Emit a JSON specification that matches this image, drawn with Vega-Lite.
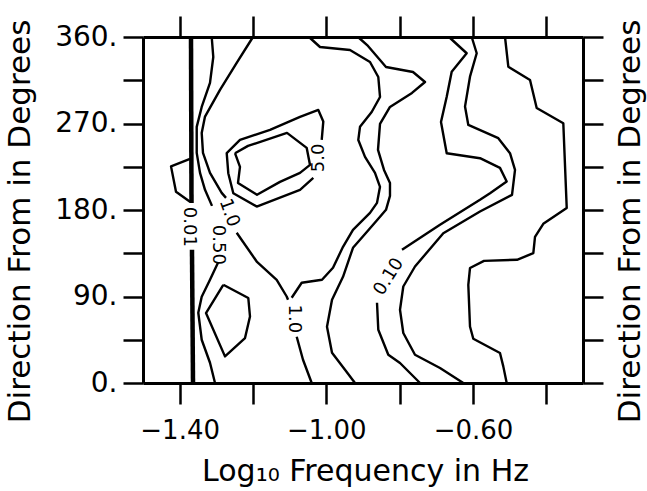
{
  "$schema": "https://vega.github.io/schema/vega-lite/v6.json",
  "width": 440,
  "height": 346,
  "autosize": {"type": "none"},
  "padding": {"left": 143, "top": 37, "right": 64, "bottom": 108},
  "background": "white",
  "config": {"view": {"stroke": null}, "font": "DejaVu Sans"},
  "datasets": {
    "contours": [
      {"seg": "0.50 left upper", "i": 0, "x": -1.3126, "y": 360},
      {"seg": "0.50 left upper", "i": 1, "x": -1.3083, "y": 339.2},
      {"seg": "0.50 left upper", "i": 2, "x": -1.3173, "y": 312.2},
      {"seg": "0.50 left upper", "i": 3, "x": -1.3399, "y": 287.2},
      {"seg": "0.50 left upper", "i": 4, "x": -1.3535, "y": 266.5},
      {"seg": "0.50 left upper", "i": 5, "x": -1.3535, "y": 239.4},
      {"seg": "0.50 left upper", "i": 6, "x": -1.3445, "y": 218.6},
      {"seg": "0.50 left upper", "i": 7, "x": -1.3309, "y": 201.0},
      {"seg": "0.50 left upper", "i": 8, "x": -1.3118, "y": 184.3},
      {"seg": "0.50 left lower", "i": 0, "x": -1.2955, "y": 125.1},
      {"seg": "0.50 left lower", "i": 1, "x": -1.3173, "y": 107.4},
      {"seg": "0.50 left lower", "i": 2, "x": -1.3399, "y": 89.7},
      {"seg": "0.50 left lower", "i": 3, "x": -1.3492, "y": 73.1},
      {"seg": "0.50 left lower", "i": 4, "x": -1.3399, "y": 45.0},
      {"seg": "0.50 left lower", "i": 5, "x": -1.3173, "y": 21.1},
      {"seg": "0.50 left lower", "i": 6, "x": -1.3036, "y": 0},
      {"seg": "1.0 a", "i": 0, "x": -1.2, "y": 360},
      {"seg": "1.0 a", "i": 1, "x": -1.2445, "y": 333.0},
      {"seg": "1.0 a", "i": 2, "x": -1.29, "y": 304.9},
      {"seg": "1.0 a", "i": 3, "x": -1.3309, "y": 277.2},
      {"seg": "1.0 a", "i": 4, "x": -1.3399, "y": 260.2},
      {"seg": "1.0 a", "i": 5, "x": -1.3364, "y": 239.4},
      {"seg": "1.0 a", "i": 6, "x": -1.3173, "y": 218.6},
      {"seg": "1.0 a", "i": 7, "x": -1.2854, "y": 197.8},
      {"seg": "1.0 a", "i": 8, "x": -1.2736, "y": 192.6},
      {"seg": "1.0 b", "i": 0, "x": -1.2445, "y": 156.3},
      {"seg": "1.0 b", "i": 1, "x": -1.1899, "y": 126.4},
      {"seg": "1.0 b", "i": 2, "x": -1.1354, "y": 107.4},
      {"seg": "1.0 b", "i": 3, "x": -1.1081, "y": 90.0},
      {"seg": "1.0 b", "i": 4, "x": -1.1045, "y": 86.6},
      {"seg": "1.0 c", "i": 0, "x": -1.0808, "y": 48.1},
      {"seg": "1.0 c", "i": 1, "x": -1.0636, "y": 24.2},
      {"seg": "1.0 c", "i": 2, "x": -1.0399, "y": 0},
      {"seg": "1.0 d", "i": 0, "x": -1.0945, "y": 88.7},
      {"seg": "1.0 d", "i": 1, "x": -1.0672, "y": 104.3},
      {"seg": "1.0 d", "i": 2, "x": -1.0118, "y": 107.4},
      {"seg": "1.0 d", "i": 3, "x": -0.9818, "y": 119.9},
      {"seg": "1.0 d", "i": 4, "x": -0.9545, "y": 141.7},
      {"seg": "1.0 d", "i": 5, "x": -0.9273, "y": 159.4},
      {"seg": "1.0 d", "i": 6, "x": -0.8809, "y": 177.0},
      {"seg": "1.0 d", "i": 7, "x": -0.8618, "y": 187.4},
      {"seg": "1.0 d", "i": 8, "x": -0.8536, "y": 204.1},
      {"seg": "1.0 d", "i": 9, "x": -0.8673, "y": 218.6},
      {"seg": "1.0 d", "i": 10, "x": -0.8945, "y": 235.3},
      {"seg": "1.0 d", "i": 11, "x": -0.9128, "y": 252.9},
      {"seg": "1.0 d", "i": 12, "x": -0.9082, "y": 266.5},
      {"seg": "1.0 d", "i": 13, "x": -0.8763, "y": 282.0},
      {"seg": "1.0 d", "i": 14, "x": -0.8536, "y": 297.6},
      {"seg": "1.0 d", "i": 15, "x": -0.8583, "y": 318.4},
      {"seg": "1.0 d", "i": 16, "x": -0.8809, "y": 334.0},
      {"seg": "1.0 d", "i": 17, "x": -0.9355, "y": 346.5},
      {"seg": "1.0 d", "i": 18, "x": -1.0173, "y": 349.6},
      {"seg": "1.0 d", "i": 19, "x": -1.0473, "y": 360},
      {"seg": "5.0 outer", "i": 0, "x": -1.0355, "y": 213.4},
      {"seg": "5.0 outer", "i": 1, "x": -1.0718, "y": 201.0},
      {"seg": "5.0 outer", "i": 2, "x": -1.1899, "y": 183.6},
      {"seg": "5.0 outer", "i": 3, "x": -1.2537, "y": 197.5},
      {"seg": "5.0 outer", "i": 4, "x": -1.2674, "y": 218.3},
      {"seg": "5.0 outer", "i": 5, "x": -1.2717, "y": 239.1},
      {"seg": "5.0 outer", "i": 6, "x": -1.2355, "y": 252.9},
      {"seg": "5.0 outer", "i": 7, "x": -1.1536, "y": 263.3},
      {"seg": "5.0 outer", "i": 8, "x": -1.0718, "y": 276.8},
      {"seg": "5.0 outer", "i": 9, "x": -1.0219, "y": 284.1},
      {"seg": "5.0 outer", "i": 10, "x": -1.0083, "y": 272.0},
      {"seg": "5.0 outer", "i": 11, "x": -1.0126, "y": 252.9},
      {"seg": "inner", "i": 0, "x": -1.2491, "y": 239.1},
      {"seg": "inner", "i": 1, "x": -1.2136, "y": 246.7},
      {"seg": "inner", "i": 2, "x": -1.1073, "y": 260.2},
      {"seg": "inner", "i": 3, "x": -1.0535, "y": 244.6},
      {"seg": "inner", "i": 4, "x": -1.0445, "y": 226.9},
      {"seg": "inner", "i": 5, "x": -1.0718, "y": 218.6},
      {"seg": "inner", "i": 6, "x": -1.1264, "y": 209.3},
      {"seg": "inner", "i": 7, "x": -1.1891, "y": 195.8},
      {"seg": "inner", "i": 8, "x": -1.2409, "y": 208.2},
      {"seg": "inner", "i": 9, "x": -1.2355, "y": 224.9},
      {"seg": "inner", "i": 10, "x": -1.2491, "y": 239.1},
      {"seg": "low loop", "i": 0, "x": -1.281, "y": 102.2},
      {"seg": "low loop", "i": 1, "x": -1.2128, "y": 88.4},
      {"seg": "low loop", "i": 2, "x": -1.2082, "y": 69.2},
      {"seg": "low loop", "i": 3, "x": -1.2218, "y": 46.8},
      {"seg": "low loop", "i": 4, "x": -1.2764, "y": 27.7},
      {"seg": "low loop", "i": 5, "x": -1.3282, "y": 72.8},
      {"seg": "low loop", "i": 6, "x": -1.281, "y": 102.2},
      {"seg": "left pocket", "i": 0, "x": -1.3718, "y": 233.2},
      {"seg": "left pocket", "i": 1, "x": -1.4236, "y": 225.4},
      {"seg": "left pocket", "i": 2, "x": -1.41, "y": 198.9},
      {"seg": "left pocket", "i": 3, "x": -1.3718, "y": 188.5},
      {"seg": "0.50 right", "i": 0, "x": -0.9136, "y": 360},
      {"seg": "0.50 right", "i": 1, "x": -0.8864, "y": 350.7},
      {"seg": "0.50 right", "i": 2, "x": -0.8536, "y": 336.1},
      {"seg": "0.50 right", "i": 3, "x": -0.8373, "y": 328.8},
      {"seg": "0.50 right", "i": 4, "x": -0.7636, "y": 323.6},
      {"seg": "0.50 right", "i": 5, "x": -0.7309, "y": 313.2},
      {"seg": "0.50 right", "i": 6, "x": -0.7664, "y": 301.8},
      {"seg": "0.50 right", "i": 7, "x": -0.8264, "y": 287.2},
      {"seg": "0.50 right", "i": 8, "x": -0.8536, "y": 269.6},
      {"seg": "0.50 right", "i": 9, "x": -0.8591, "y": 242.5},
      {"seg": "0.50 right", "i": 10, "x": -0.8427, "y": 221.7},
      {"seg": "0.50 right", "i": 11, "x": -0.8264, "y": 208.2},
      {"seg": "0.50 right", "i": 12, "x": -0.8264, "y": 194.7},
      {"seg": "0.50 right", "i": 13, "x": -0.8373, "y": 180.2},
      {"seg": "0.50 right", "i": 14, "x": -0.8536, "y": 172.9},
      {"seg": "0.50 right", "i": 15, "x": -0.8891, "y": 157.3},
      {"seg": "0.50 right", "i": 16, "x": -0.9273, "y": 140.7},
      {"seg": "0.50 right", "i": 17, "x": -0.9545, "y": 110.5},
      {"seg": "0.50 right", "i": 18, "x": -0.9845, "y": 86.6},
      {"seg": "0.50 right", "i": 19, "x": -0.9982, "y": 58.5},
      {"seg": "0.50 right", "i": 20, "x": -0.9845, "y": 31.5},
      {"seg": "0.50 right", "i": 21, "x": -0.9491, "y": 13.8},
      {"seg": "0.50 right", "i": 22, "x": -0.9218, "y": 0},
      {"seg": "0.10 upper", "i": 0, "x": -0.6655, "y": 360},
      {"seg": "0.10 upper", "i": 1, "x": -0.6172, "y": 343.1},
      {"seg": "0.10 upper", "i": 2, "x": -0.6581, "y": 323.9},
      {"seg": "0.10 upper", "i": 3, "x": -0.6717, "y": 297.9},
      {"seg": "0.10 upper", "i": 4, "x": -0.6873, "y": 271.6},
      {"seg": "0.10 upper", "i": 5, "x": -0.6717, "y": 239.1},
      {"seg": "0.10 upper", "i": 6, "x": -0.5809, "y": 233.9},
      {"seg": "0.10 upper", "i": 7, "x": -0.5264, "y": 223.8},
      {"seg": "0.10 upper", "i": 8, "x": -0.5081, "y": 209.6},
      {"seg": "0.10 upper", "i": 9, "x": -0.5536, "y": 197.5},
      {"seg": "0.10 upper", "i": 10, "x": -0.5809, "y": 190.6},
      {"seg": "0.10 upper", "i": 11, "x": -0.69, "y": 164.6},
      {"seg": "0.10 upper", "i": 12, "x": -0.7936, "y": 138.6},
      {"seg": "0.10 lower", "i": 0, "x": -0.8618, "y": 83.5},
      {"seg": "0.10 lower", "i": 1, "x": -0.8583, "y": 55.4},
      {"seg": "0.10 lower", "i": 2, "x": -0.831, "y": 29.4},
      {"seg": "0.10 lower", "i": 3, "x": -0.7991, "y": 20.8},
      {"seg": "0.10 lower", "i": 4, "x": -0.7445, "y": 0},
      {"seg": "0.05", "i": 0, "x": -0.6035, "y": 360},
      {"seg": "0.05", "i": 1, "x": -0.5899, "y": 343.1},
      {"seg": "0.05", "i": 2, "x": -0.6082, "y": 318.7},
      {"seg": "0.05", "i": 3, "x": -0.6218, "y": 287.6},
      {"seg": "0.05", "i": 4, "x": -0.6128, "y": 268.5},
      {"seg": "0.05", "i": 5, "x": -0.531, "y": 254.7},
      {"seg": "0.05", "i": 6, "x": -0.4991, "y": 239.1},
      {"seg": "0.05", "i": 7, "x": -0.4854, "y": 221.7},
      {"seg": "0.05", "i": 8, "x": -0.4936, "y": 195.8},
      {"seg": "0.05", "i": 9, "x": -0.5809, "y": 178.4},
      {"seg": "0.05", "i": 10, "x": -0.681, "y": 155.9},
      {"seg": "0.05", "i": 11, "x": -0.7582, "y": 121.2},
      {"seg": "0.05", "i": 12, "x": -0.7901, "y": 100.4},
      {"seg": "0.05", "i": 13, "x": -0.7991, "y": 76.2},
      {"seg": "0.05", "i": 14, "x": -0.7901, "y": 52.0},
      {"seg": "0.05", "i": 15, "x": -0.7582, "y": 29.4},
      {"seg": "0.05", "i": 16, "x": -0.69, "y": 15.6},
      {"seg": "0.05", "i": 17, "x": -0.6264, "y": 0},
      {"seg": "0.01", "i": 0, "x": -0.5127, "y": 360},
      {"seg": "0.01", "i": 1, "x": -0.5037, "y": 329.1},
      {"seg": "0.01", "i": 2, "x": -0.4445, "y": 315.3},
      {"seg": "0.01", "i": 3, "x": -0.4263, "y": 286.2},
      {"seg": "0.01", "i": 4, "x": -0.3537, "y": 270.3},
      {"seg": "0.01", "i": 5, "x": -0.3444, "y": 182.2},
      {"seg": "0.01", "i": 6, "x": -0.4083, "y": 165.6},
      {"seg": "0.01", "i": 7, "x": -0.4309, "y": 152.1},
      {"seg": "0.01", "i": 8, "x": -0.4355, "y": 135.1},
      {"seg": "0.01", "i": 9, "x": -0.48, "y": 128.2},
      {"seg": "0.01", "i": 10, "x": -0.57, "y": 127.1},
      {"seg": "0.01", "i": 11, "x": -0.6082, "y": 119.6},
      {"seg": "0.01", "i": 12, "x": -0.6128, "y": 102.2},
      {"seg": "0.01", "i": 13, "x": -0.6082, "y": 58.8},
      {"seg": "0.01", "i": 14, "x": -0.5992, "y": 46.1},
      {"seg": "0.01", "i": 15, "x": -0.5264, "y": 31.2},
      {"seg": "0.01", "i": 16, "x": -0.5174, "y": 17.3},
      {"seg": "0.01", "i": 17, "x": -0.5081, "y": 0}
    ],
    "edge": [
      {"seg": "cutoff upper", "i": 0, "x": -1.3691, "y": 360},
      {"seg": "cutoff upper", "i": 1, "x": -1.3677, "y": 187.4},
      {"seg": "cutoff lower", "i": 0, "x": -1.3664, "y": 138.6},
      {"seg": "cutoff lower", "i": 1, "x": -1.3636, "y": 0}
    ],
    "labels": [
      {"id": "cutoff", "text": "0.01", "x": -1.3745, "y": 162.5},
      {"id": "half left", "text": "0.50", "x": -1.2968, "y": 143.8},
      {"id": "one upper", "text": "1.0", "x": -1.2655, "y": 177.0},
      {"id": "one lower", "text": "1.0", "x": -1.0882, "y": 66.8},
      {"id": "five", "text": "5.0", "x": -1.02, "y": 234.2},
      {"id": "tenth", "text": "0.10", "x": -0.8291, "y": 110.5}
    ]
  },
  "layer": [
    {
      "data": {"name": "contours"},
      "mark": {"type": "line", "color": "black", "strokeWidth": 2.4, "strokeJoin": "round"},
      "encoding": {
        "x": {"field": "x", "type": "quantitative",
          "scale": {"domain": [-1.5, -0.3], "nice": false, "zero": false},
          "axis": {"orient": "bottom", "values": [-1.4, -1.2, -1.0, -0.8, -0.6, -0.4],
            "labelExpr": "(round(datum.value*10) == -14 || round(datum.value*10) == -10 || round(datum.value*10) == -6) ? format(datum.value, '.2f') : ''",
            "grid": false, "tickSize": 21, "tickWidth": 2.5, "tickColor": "black",
            "domainColor": "black", "domainWidth": 3,
            "labelFont": "DejaVu Sans", "labelFontSize": 26, "labelColor": "black", "labelPadding": 13, "labelBaseline": "top",
            "labelFlush": false, "labelOverlap": false,
            "title": "Log₁₀ Frequency in Hz", "titleFont": "DejaVu Sans", "titleFontSize": 30, "titleFontWeight": "normal", "titleColor": "black",
            "titleX": 222, "titleY": 97, "titleAlign": "center", "titleBaseline": "alphabetic"}},
        "y": {"field": "y", "type": "quantitative",
          "scale": {"domain": [0, 360], "nice": false, "zero": false},
          "axis": {"orient": "left", "values": [0, 45, 90, 135, 180, 225, 270, 315, 360],
            "labelExpr": "datum.value % 90 == 0 ? datum.value + '.' : ''",
            "grid": false, "tickSize": 20, "tickWidth": 2.5, "tickColor": "black",
            "domainColor": "black", "domainWidth": 3,
            "labelFont": "DejaVu Sans", "labelFontSize": 28, "labelColor": "black", "labelPadding": 6, "labelBaseline": "middle",
            "labelFlush": false, "labelOverlap": false,
            "title": "Direction From in Degrees", "titleFont": "DejaVu Sans", "titleFontSize": 31, "titleFontWeight": "normal", "titleColor": "black",
            "titleAngle": -90, "titleX": -113.5, "titleY": 184, "titleAlign": "center", "titleBaseline": "alphabetic"}},
        "detail": {"field": "seg"},
        "order": {"field": "i", "type": "quantitative"}
      }
    },
    {
      "data": {"name": "edge"},
      "mark": {"type": "line", "color": "black", "strokeWidth": 4.5},
      "encoding": {
        "x": {"field": "x", "type": "quantitative",
          "scale": {"domain": [-1.5, -0.3], "nice": false, "zero": false},
          "axis": {"orient": "top", "values": [-1.4, -1.2, -1.0, -0.8, -0.6, -0.4], "labels": false,
            "grid": false, "tickSize": 21, "tickWidth": 2.5, "tickColor": "black",
            "domainColor": "black", "domainWidth": 3, "title": null}},
        "y": {"field": "y", "type": "quantitative",
          "scale": {"domain": [0, 360], "nice": false, "zero": false},
          "axis": {"orient": "right", "values": [0, 45, 90, 135, 180, 225, 270, 315, 360], "labels": false,
            "grid": false, "tickSize": 20, "tickWidth": 2.5, "tickColor": "black",
            "domainColor": "black", "domainWidth": 3,
            "title": "Direction From in Degrees", "titleFont": "DejaVu Sans", "titleFontSize": 31, "titleFontWeight": "normal", "titleColor": "black",
            "titleAngle": -90, "titleX": 56.5, "titleY": 184, "titleAlign": "center", "titleBaseline": "alphabetic"}},
        "detail": {"field": "seg"},
        "order": {"field": "i", "type": "quantitative"}
      }
    },
    {
      "data": {"name": "labels"},
      "transform": [{"filter": "datum.id == 'cutoff' || datum.id == 'half left' || datum.id == 'one lower'"}],
      "mark": {"type": "text", "angle": 90, "fontSize": 18, "font": "DejaVu Sans", "color": "black", "align": "center", "baseline": "middle"},
      "encoding": {
        "x": {"field": "x", "type": "quantitative", "axis": null},
        "y": {"field": "y", "type": "quantitative", "axis": null},
        "text": {"field": "text"}
      }
    },
    {
      "data": {"name": "labels"},
      "transform": [{"filter": "datum.id == 'one upper'"}],
      "mark": {"type": "text", "angle": 70, "fontSize": 18, "font": "DejaVu Sans", "color": "black", "align": "center", "baseline": "middle"},
      "encoding": {
        "x": {"field": "x", "type": "quantitative", "axis": null},
        "y": {"field": "y", "type": "quantitative", "axis": null},
        "text": {"field": "text"}
      }
    },
    {
      "data": {"name": "labels"},
      "transform": [{"filter": "datum.id == 'five'"}],
      "mark": {"type": "text", "angle": -90, "fontSize": 18, "font": "DejaVu Sans", "color": "black", "align": "center", "baseline": "middle"},
      "encoding": {
        "x": {"field": "x", "type": "quantitative", "axis": null},
        "y": {"field": "y", "type": "quantitative", "axis": null},
        "text": {"field": "text"}
      }
    },
    {
      "data": {"name": "labels"},
      "transform": [{"filter": "datum.id == 'tenth'"}],
      "mark": {"type": "text", "angle": -58, "fontSize": 18, "font": "DejaVu Sans", "color": "black", "align": "center", "baseline": "middle"},
      "encoding": {
        "x": {"field": "x", "type": "quantitative", "axis": null},
        "y": {"field": "y", "type": "quantitative", "axis": null},
        "text": {"field": "text"}
      }
    }
  ],
  "resolve": {"axis": {"x": "independent", "y": "independent"}}
}
